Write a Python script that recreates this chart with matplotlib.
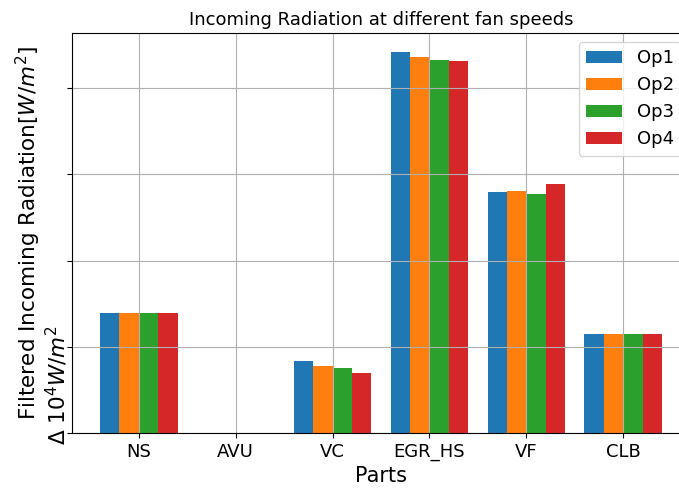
import numpy as np
import matplotlib
matplotlib.use('Agg')
import matplotlib.pyplot as plt

# data (in units of 10^4 W/m^2)
parts = ['NS', 'AVU', 'VC', 'EGR_HS', 'VF', 'CLB']
op1 = [1.395, 0.0, 0.837, 4.419, 2.791, 1.151]
op2 = [1.395, 0.0, 0.779, 4.360, 2.802, 1.151]
op3 = [1.395, 0.0, 0.756, 4.326, 2.767, 1.151]
op4 = [1.395, 0.0, 0.698, 4.314, 2.884, 1.151]
series = {'Op1': op1, 'Op2': op2, 'Op3': op3, 'Op4': op4}
y_ticks = [0, 1, 2, 3, 4]

fig = plt.figure(figsize=(6.79, 4.93), dpi=100)
# axes runs past the right edge, as in the cropped original
ax = fig.add_axes([72 / 679, 60 / 493, (690 - 72) / 679, 400 / 493])

x = np.arange(len(parts))
width = 0.2
for i, (name, vals) in enumerate(series.items()):
    ax.bar(x + (i - 1.5) * width, vals, width, label=name)

ax.set_xticks(x)
ax.set_xticklabels(parts, fontsize=13)
ax.set_yticks(y_ticks)
ax.set_yticklabels([])
ax.grid(True)

ax.set_title('Incoming Radiation at different fan speeds', fontsize=13)
ax.set_xlabel('Parts', fontsize=15)
ax.set_ylabel('Filtered Incoming Radiation[$W/m^2$]', fontsize=15.5)
ax.yaxis.set_label_coords(-0.047, 0.5)
ax.text(-0.003, -0.03, r'$\Delta$ $10^4W/m^2$', transform=ax.transAxes,
        rotation=90, ha='right', va='bottom', fontsize=15.5)

ax.legend(fontsize=13, loc='upper right')

plt.savefig('out.png', dpi=100)
plt.close()
